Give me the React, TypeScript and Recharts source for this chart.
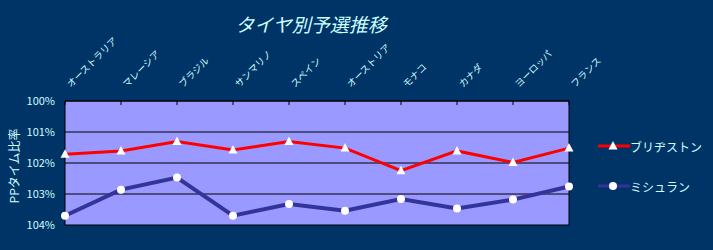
import * as React from 'react';
import { LineChart, Line, XAxis, YAxis, CartesianGrid, ReferenceLine, Label } from 'recharts';

// 予選タイム比率 (トップタイム=100%)
const categories = ['オーストラリア', 'マレーシア', 'ブラジル', 'サンマリノ', 'スペイン', 'オーストリア', 'モナコ', 'カナダ', 'ヨーロッパ', 'フランス'];
const bridgestone = [101.72, 101.61, 101.31, 101.58, 101.31, 101.52, 102.25, 101.61, 101.98, 101.52];
const michelin = [103.70, 102.86, 102.47, 103.70, 103.32, 103.54, 103.16, 103.47, 103.18, 102.76];
const yTicks = [100, 101, 102, 103, 104];
const seriesNames = ['ブリヂストン', 'ミシュラン'];

const BG = '#003366';
const TXT = '#CCFFFF';
const FONT = '"Noto Sans CJK JP", "Noto Sans", sans-serif';

const data = categories.map((c, i) => ({ cat: c, bs: bridgestone[i], mi: michelin[i] }));

const CatTick = (props: any) => {
  const { x, y, payload } = props;
  const tx = x + 6;
  const ty = y - 13;
  return (
    <g>
      <line x1={x} y1={y} x2={x} y2={y + 4} stroke="#000" strokeWidth={1} />
      <text x={tx} y={ty} transform={`rotate(-45 ${tx} ${ty})`} fill={TXT} fontSize={9.5} fontFamily={FONT} textAnchor="start">
        {payload.value}
      </text>
    </g>
  );
};

const TriDot = (props: any) => {
  const { cx, cy, index } = props;
  if (cx == null || cy == null) return <g key={`t-${index}`} />;
  return <polygon key={`t-${index}`} points={`${cx},${cy - 5} ${cx - 4.5},${cy + 3.5} ${cx + 4.5},${cy + 3.5}`} fill="#fff" />;
};

const CircDot = (props: any) => {
  const { cx, cy, index } = props;
  if (cx == null || cy == null) return <g key={`c-${index}`} />;
  return <circle key={`c-${index}`} cx={cx} cy={cy} r={4} fill="#fff" />;
};

export default function App() {
  return (
    <div style={{ position: 'fixed', left: 0, top: 0, width: 713, height: 250, background: BG, fontFamily: FONT }}>
      <div style={{ position: 'absolute', left: 0, width: 622, top: 10, textAlign: 'center', color: TXT, fontSize: 19, fontStyle: 'italic', lineHeight: '28px' }}>
        タイヤ別予選推移
      </div>
      <LineChart width={713} height={250} data={data} margin={{ top: 41, right: 144, bottom: 25, left: 0 }}>
        <CartesianGrid vertical={false} stroke="#000" fill="#9999FF" fillOpacity={1} />
        <XAxis dataKey="cat" orientation="top" height={60} interval={0} tickLine={false} tickSize={0} tickMargin={0}
          axisLine={{ stroke: '#000' }} tick={<CatTick />} />
        <YAxis domain={[100, 104]} reversed ticks={yTicks} width={65} tickFormatter={(v: number) => `${v}%`}
          tickLine={false} tickSize={0} tickMargin={10} axisLine={{ stroke: '#000' }}
          tick={{ fill: TXT, fontSize: 11, fontFamily: FONT }}>
          <Label content={() => (
            <text x={13} y={166} transform="rotate(-90 13 166)" textAnchor="middle" dominantBaseline="central" fill={TXT} fontSize={12} fontFamily={FONT}>
              PPタイム比率
            </text>
          )} />
        </YAxis>
        <ReferenceLine x={categories[categories.length - 1]} stroke="#000" />
        <Line type="linear" dataKey="mi" name={seriesNames[1]} stroke="#333399" strokeWidth={4} dot={<CircDot />} activeDot={false} isAnimationActive={false} />
        <Line type="linear" dataKey="bs" name={seriesNames[0]} stroke="#FF0000" strokeWidth={3} dot={<TriDot />} activeDot={false} isAnimationActive={false} />
      </LineChart>
      <div style={{ position: 'absolute', left: 598, top: 137, color: TXT, fontSize: 12 }}>
        {seriesNames.map((n, i) => (
          <div key={n} style={{ display: 'flex', alignItems: 'center', height: 18, marginBottom: i === 0 ? 22 : 0 }}>
            <svg width={32} height={18} style={{ display: 'block' }}>
              <line x1={0} y1={9} x2={32} y2={9} stroke={i === 0 ? '#FF0000' : '#333399'} strokeWidth={3} />
              {i === 0
                ? <polygon points="15,4 10.5,12.5 19.5,12.5" fill="#fff" />
                : <circle cx={15} cy={9} r={4} fill="#fff" />}
            </svg>
            <span style={{ whiteSpace: 'nowrap' }}>{n}</span>
          </div>
        ))}
      </div>
    </div>
  );
}
